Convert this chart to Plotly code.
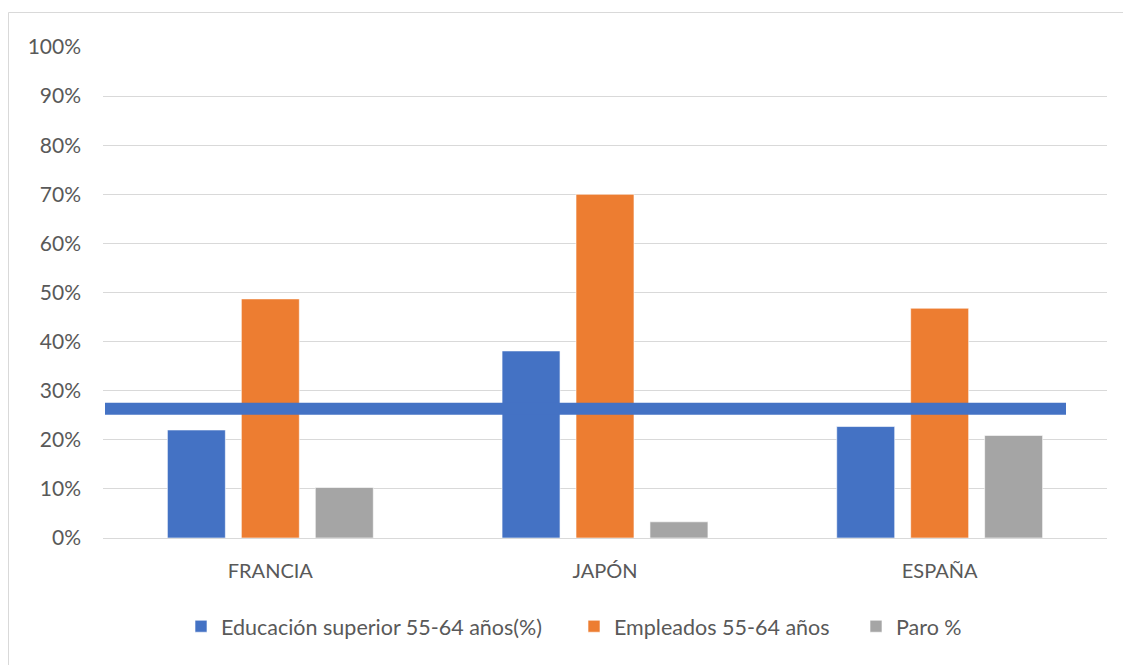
import plotly.graph_objects as go

categories = ["FRANCIA", "JAPÓN", "ESPAÑA"]
educacion = [22.0, 38.1, 22.7]
empleados = [48.7, 70.0, 46.8]
paro = [10.3, 3.3, 20.9]
reference_line = 26.3
y_ticks = list(range(0, 101, 10))
y_tick_labels = [f"{v}%" for v in y_ticks]

series_names = ["Educación superior 55-64 años(%)", "Empleados 55-64 años", "Paro %"]
colors = ["#4472C4", "#ED7D31", "#A5A5A5"]

FONT = "Lato"
# page body has an 8px margin, so the figure is drawn at (8, 8)
W, H = 1123, 657
L, R, T, B = 95, 24, 39, 127
pw = W - L - R
ph = H - T - B

legend_ids = ["legend", "legend2", "legend3"]
legend_x_px = [173, 566, 848]

fig = go.Figure()
for name, vals, col, lid in zip(series_names, [educacion, empleados, paro], colors, legend_ids):
    fig.add_trace(go.Bar(
        x=categories, y=vals, name=name, legend=lid,
        marker=dict(color=col, line=dict(color="rgba(255,255,255,0.6)", width=1)),
    ))

# thick horizontal reference line
fig.add_shape(type="line", xref="paper", yref="y",
              x0=(97 - L) / pw, x1=(1058 - L) / pw,
              y0=reference_line, y1=reference_line,
              line=dict(color="#4472C4", width=12), layer="above")

# chart border
fig.add_shape(type="rect", xref="paper", yref="paper",
              x0=(0.5 - L) / pw, x1=(1140 - L) / pw,
              y0=(H - B - 4.5) / ph, y1=-0.4,
              line=dict(color="#D9D9D9", width=1), layer="below")

legend_common = dict(orientation="h", xanchor="left", y=-0.138, yanchor="top",
                     font=dict(family=FONT, size=21.5, color="#595959"),
                     bgcolor="rgba(0,0,0,0)")
legend_layout = {}
for lid, xp in zip(legend_ids, legend_x_px):
    legend_layout[lid] = dict(x=(xp - L) / pw, **legend_common)

fig.update_layout(
    width=W, height=H,
    margin=dict(l=L, r=R, t=T, b=B),
    paper_bgcolor="white", plot_bgcolor="white",
    font=dict(family=FONT, color="#595959", size=20),
    barmode="group", bargap=0.337, bargroupgap=0.216,
    showlegend=True,
    xaxis=dict(showgrid=False, showline=False, ticks="", ticklabelstandoff=19,
               tickfont=dict(family=FONT, size=20, color="#595959")),
    yaxis=dict(range=[0, 100], tickvals=y_ticks, ticktext=y_tick_labels,
               showgrid=True, gridcolor="#D9D9D9", gridwidth=1,
               zeroline=True, zerolinecolor="#D9D9D9", zerolinewidth=1,
               showline=False, ticks="", ticklabelstandoff=21,
               tickfont=dict(family=FONT, size=21, color="#595959")),
    **legend_layout,
)

fig.write_html("out.html")
